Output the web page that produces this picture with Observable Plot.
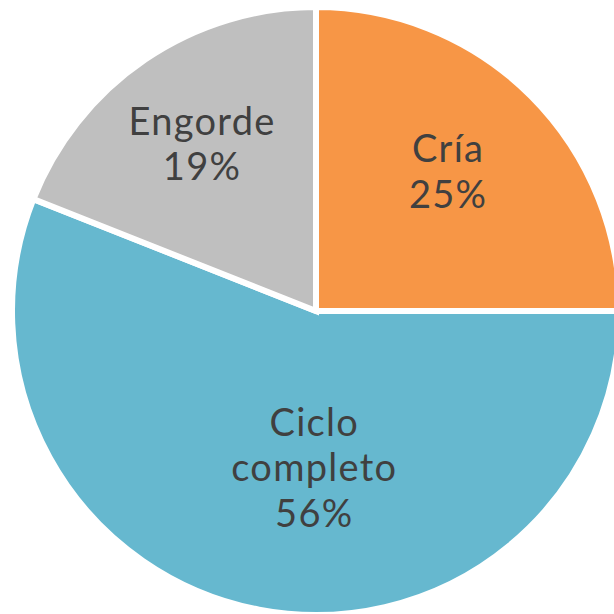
<!DOCTYPE html>
<html><head><meta charset="utf-8">
<script src="https://cdn.jsdelivr.net/npm/d3@7"></script>
<script src="https://cdn.jsdelivr.net/npm/@observablehq/plot@0.6"></script>
<style>html,body{margin:0;padding:0;background:#fff;overflow:hidden}</style>
</head><body><div id="chart"></div>
<script>
const categories = ["Cría", "Ciclo completo", "Engorde"];
const shares = [25, 56, 19];
const colors = ["#F79646", "#66B8CF", "#BFBFBF"];

// layout (label placement as fraction of radius / angle in pie degrees)
const labelR = [0.635, 0.51, 0.67];
const labelAngleShift = [-2, -10, 0];

const pie = d3.pie().sort(null).value(d => d.value);
const arcs = pie(categories.map((c, i) => ({category: c, value: shares[i], color: colors[i]})));

const labels = arcs.map((a, i) => {
  const mid = (a.startAngle + a.endAngle) / 2 + labelAngleShift[i] * Math.PI / 180;
  return {
    x: labelR[i] * Math.sin(mid),
    y: labelR[i] * Math.cos(mid),
    text: (a.data.category === "Ciclo completo" ? "Ciclo\ncompleto" : a.data.category) + "\n" + a.data.value + "%"
  };
});

const R = 304, cx = 316, cy = 311, W = 614, H = 614;

function pieMark(index, scales, values, dimensions) {
  const x = scales.x, y = scales.y;
  const ox = x(0), oy = y(0), r = x(1) - x(0);
  const arcGen = d3.arc().innerRadius(0).outerRadius(r);
  const g = d3.create("svg:g").attr("transform", `translate(${ox},${oy})`);
  g.selectAll("path").data(arcs).join("path")
    .attr("d", arcGen)
    .attr("fill", d => d.data.color)
    .attr("stroke", "#fff")
    .attr("stroke-width", 6)
    .attr("stroke-linejoin", "miter");
  return g.node();
}

const chart = Plot.plot({
  width: W, height: H,
  margin: 0,
  style: {background: "#fff", fontFamily: "Lato, 'Noto Sans', sans-serif"},
  x: {domain: [-cx / R, (W - cx) / R], range: [0, W], axis: null},
  y: {domain: [-(H - cy) / R, cy / R], range: [H, 0], axis: null},
  marks: [
    pieMark,
    Plot.text(labels, {x: "x", y: "y", text: "text", fontSize: 38, lineHeight: 1.2, fill: "#404040", fontWeight: 400})
  ]
});
chart.querySelectorAll("text").forEach(t => t.setAttribute("letter-spacing", "1.3"));
document.getElementById("chart").appendChild(chart);
</script>
</body></html>
